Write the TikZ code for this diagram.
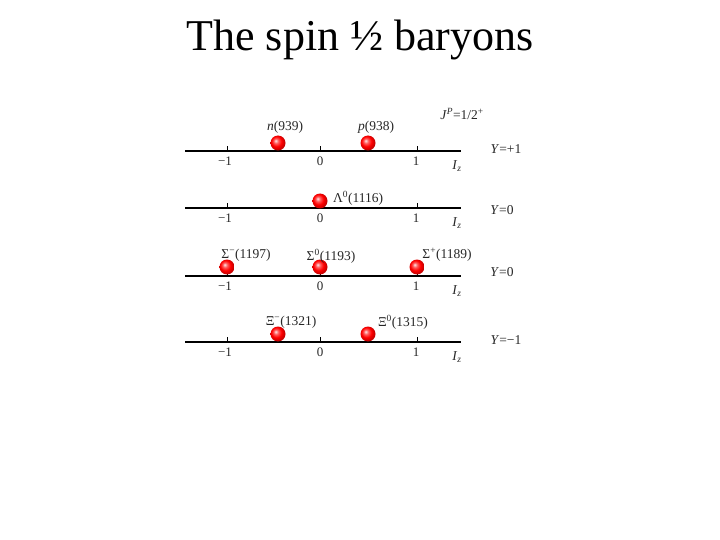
\documentclass[tikz,border=0pt]{standalone}
\usepackage{fontspec}
\setmainfont{Liberation Serif}
\pgfdeclareradialshading{redball}{\pgfqpoint{-8bp}{8bp}}{color(0bp)=(red!10!white); color(8bp)=(red!65!white); color(17bp)=(red); color(25bp)=(red!80!black); color(50bp)=(red!55!black)}
\begin{document}
\begin{tikzpicture}[x=1pt,y=-1pt,
  axis/.style={line width=1.2pt},
  tick/.style={line width=0.7pt},
  ticklab/.style={font=\fontsize{13}{15}\selectfont, inner sep=0pt, text=black!85},
  lab/.style={font=\fontsize{13.5}{15}\selectfont, inner sep=0pt, text=black!85},
  ball/.style={circle, minimum size=15pt, inner sep=0pt, shading=redball},
]
\useasboundingbox (0,0) rectangle (720,540);
\node (title) at (360,40) {\fontsize{44}{50}\selectfont The spin ½ baryons};
\node[lab] (jp) at (462,114) {\textit{J}\textsuperscript{\textit{P}}=1/2\textsuperscript{+}};
% rows: y positions
\foreach \row/\yy in {1/151, 2/208, 3/276, 4/342}{
  \coordinate (L\row) at (185,\yy);
  \coordinate (R\row) at (461,\yy);
  \draw[axis] (L\row) -- (R\row);
  \foreach \xx/\t/\nm/\dx in {227/−1/m/-2, 320/0/z/0, 417/1/p/-1}{
    \coordinate (T\row\nm) at (\xx,\yy);
    \draw[tick] (T\row\nm) -- ++(0,-5);
    \node[ticklab] at (\xx+\dx,\yy+10) {\t};
  }
  \node[lab] (iz\row) at (457,\yy+15) {\textit{I}\textsubscript{\textit{z}}};
}
\node[lab] (y1) at (506,149) {\textit{Y}=+1};
\node[lab] (y2) at (502,210) {\textit{Y}=0};
\node[lab] (y3) at (502,272) {\textit{Y}=0};
\node[lab] (y4) at (506,340) {\textit{Y}=−1};
% row 1
\node[ball] (n) at (278,143) {};
\node[ball] (p) at (368,143) {};
\node[lab] at (285,127) {\textit{n}(939)};
\node[lab] at (376,127) {\textit{p}(938)};
% row 2
\node[ball] (lam) at (320,201) {};
\node[lab] at (358,198) {Λ\textsuperscript{0}(1116)};
% row 3
\node[ball] (sm) at (227,267) {};
\node[ball] (s0) at (320,267) {};
\node[ball] (sp) at (417,267) {};
\node[lab] at (246,255) {Σ\textsuperscript{−}(1197)};
\node[lab] at (331,256) {Σ\textsuperscript{0}(1193)};
\node[lab] at (447,255) {Σ\textsuperscript{+}(1189)};
% row 4
\node[ball] (xm) at (278,334) {};
\node[ball] (x0) at (368,334) {};
\node[lab] at (291,322) {Ξ\textsuperscript{−}(1321)};
\node[lab] at (403,322) {Ξ\textsuperscript{0}(1315)};
\end{tikzpicture}
\end{document}
